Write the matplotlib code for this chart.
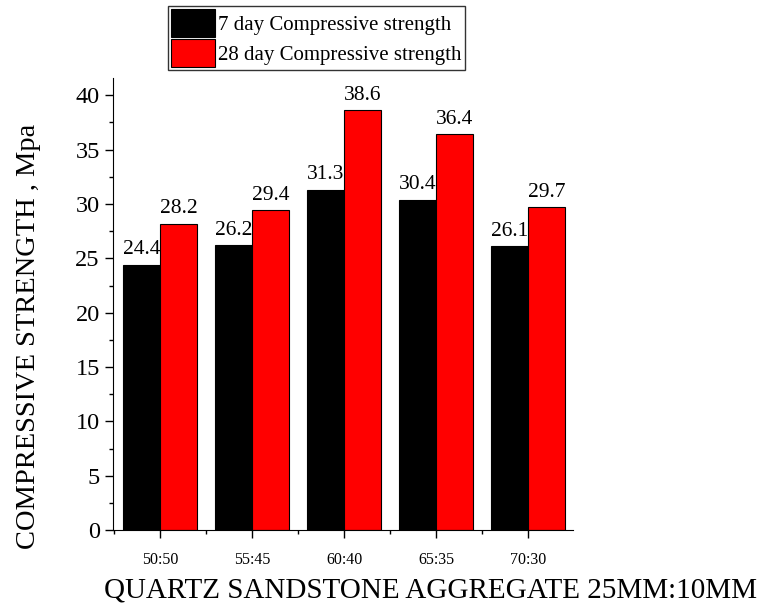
import numpy as np
import matplotlib.pyplot as plt
from matplotlib.ticker import MultipleLocator

plt.rcParams['font.family'] = ['Liberation Serif', 'DejaVu Serif']

ratios = ["50:50", "55:45", "60:40", "65:35", "70:30"]
day7 = [24.4, 26.2, 31.3, 30.4, 26.1]
day28 = [28.2, 29.4, 38.6, 36.4, 29.7]

fig = plt.figure(figsize=(7.61, 6.08), dpi=100)
ax = fig.add_axes([0.1485, 0.128, 0.605, 0.744])

x = np.arange(len(ratios))
w = 0.4
b1 = ax.bar(x - w/2, day7, w, color='black', edgecolor='black', linewidth=0.8,
            label='7 day Compressive strength')
b2 = ax.bar(x + w/2, day28, w, color='#ff0000', edgecolor='black', linewidth=0.8,
            label='28 day Compressive strength')

ax.bar_label(b1, labels=[f"{v:.1f}" for v in day7], padding=4, fontsize=15.5)
ax.bar_label(b2, labels=[f"{v:.1f}" for v in day28], padding=4, fontsize=15.5)

ax.set_xlim(-0.51, 4.49)
ax.set_ylim(0, 41.6)
ax.set_xticks(x)
ax.set_xticklabels(ratios, fontsize=11.5)
ax.xaxis.set_minor_locator(MultipleLocator(0.5))
ax.yaxis.set_major_locator(MultipleLocator(5))
ax.yaxis.set_minor_locator(MultipleLocator(2.5))
ax.tick_params(axis='y', labelsize=17.5, length=6, width=1)
ax.tick_params(axis='x', length=6, width=1, pad=10)
ax.tick_params(which='minor', length=3, width=1)

for s in ['top', 'right']:
    ax.spines[s].set_visible(False)

# axis titles placed as in the reference (not centred on the axes)
fig.text(431/761, 1 - 590/608, "QUARTZ SANDSTONE AGGREGATE 25MM:10MM",
         fontsize=21, ha='center', va='center')
fig.text(29/761, 1 - 336/608, "COMPRESSIVE STRENGTH , Mpa",
         fontsize=20.5, ha='center', va='center', rotation=90)

leg = fig.legend(loc='upper left', bbox_to_anchor=(168/761, 1 - 6/608),
                 fontsize=15, frameon=True, fancybox=False, edgecolor='black',
                 handlelength=2.1, handleheight=1.65, handletextpad=0.15,
                 borderpad=0.15, labelspacing=0.12, borderaxespad=0)
leg.get_frame().set_linewidth(1)

fig.savefig("out.png", dpi=100)
